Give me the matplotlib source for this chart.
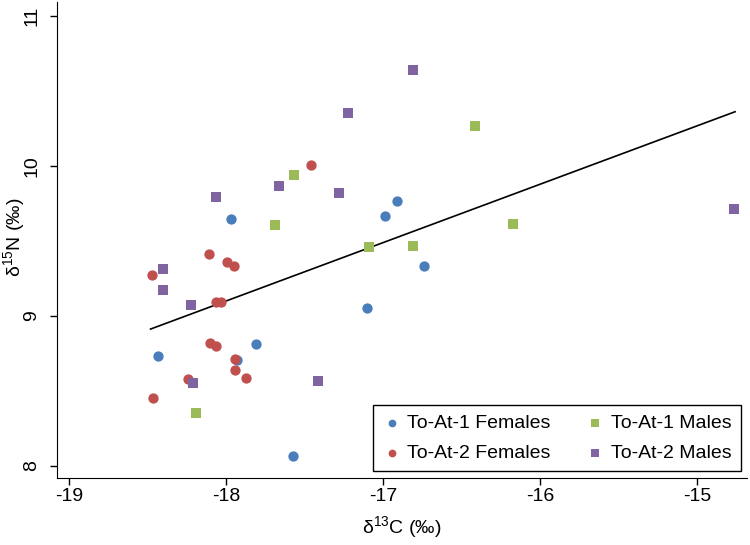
import matplotlib
matplotlib.use("Agg")
import matplotlib.pyplot as plt

plt.rcParams['font.family'] = ['Liberation Sans', 'DejaVu Sans']
plt.rcParams['mathtext.default'] = 'regular'

# To-At-1 Females
f1_c = [-17.97, -16.985, -16.91, -16.74, -17.10, -17.81, -18.43, -17.93, -17.57]
f1_n = [9.647, 9.663, 9.765, 9.333, 9.049, 8.813, 8.731, 8.703, 8.063]

# To-At-2 Females
f2_c = [-17.46, -18.106, -17.996, -17.95, -18.47, -18.06, -18.03, -18.10,
        -18.06, -17.945, -17.945, -18.24, -17.87, -18.465]
f2_n = [10.007, 9.411, 9.358, 9.331, 9.271, 9.089, 9.089, 8.816,
        8.796, 8.711, 8.64, 8.576, 8.583, 8.449]

# To-At-1 Males
m1_c = [-16.41, -16.17, -16.81, -17.09, -17.567, -17.686, -18.19]
m1_n = [10.263, 9.611, 9.465, 9.458, 9.938, 9.603, 8.351]

# To-At-2 Males
m2_c = [-16.81, -14.76, -17.22, -17.66, -17.28, -18.06, -18.40, -18.40,
        -18.22, -18.21, -17.41]
m2_n = [10.636, 9.713, 10.349, 9.867, 9.816, 9.793, 9.309, 9.171,
        9.069, 8.549, 8.563]

# fitted line (end points)
fit_c = [-18.48, -14.756]
fit_n = [8.911, 10.36]

xticks = [-19, -18, -17, -16, -15]
yticks = [8, 9, 10, 11]

fig = plt.figure(figsize=(7.5, 5.45), dpi=100)
ax = fig.add_axes([0.076, 0.1229, 0.92, 0.873])

ax.plot(fit_c, fit_n, color="black", lw=1.2, zorder=2)
ax.scatter(f1_c, f1_n, s=55, marker="o", color="#4a7ebb", label="To-At-1 Females", zorder=3, linewidths=0)
ax.scatter(f2_c, f2_n, s=55, marker="o", color="#c0504d", label="To-At-2 Females", zorder=3, linewidths=0)
ax.scatter(m1_c, m1_n, s=55, marker="s", color="#9bbb59", label="To-At-1 Males", zorder=3, linewidths=0)
ax.scatter(m2_c, m2_n, s=55, marker="s", color="#8064a2", label="To-At-2 Males", zorder=3, linewidths=0)

ax.set_xlim(-19.076, -14.68)
ax.set_ylim(7.918, 11.09)
ax.set_xticks(xticks)
ax.set_yticks(yticks)
ax.set_xticklabels([str(t) for t in xticks])
ax.set_yticklabels([str(t) for t in yticks], rotation=90, va="center")
ax.tick_params(length=5, width=1, labelsize=14)
ax.tick_params(axis="x", pad=2)
ax.tick_params(axis="y", pad=7)

ax.spines["top"].set_visible(False)
ax.spines["right"].set_visible(False)

ax.set_xlabel("δ$^{13}$C (‰)", fontsize=14, labelpad=7)
ax.set_ylabel("δ$^{15}$N (‰)", fontsize=14)
ax.yaxis.set_label_coords(-0.043, 0.505)

leg = ax.legend(loc="lower right", bbox_to_anchor=(0.991, 0.0147), ncol=2,
                fontsize=14, frameon=True, fancybox=False, edgecolor="black",
                framealpha=1, handletextpad=0.3, columnspacing=1.8,
                borderpad=0.48, labelspacing=0.6, markerscale=0.75,
                handlelength=1.0, borderaxespad=0)
leg.get_frame().set_linewidth(1)

plt.savefig("out.png", dpi=100)
